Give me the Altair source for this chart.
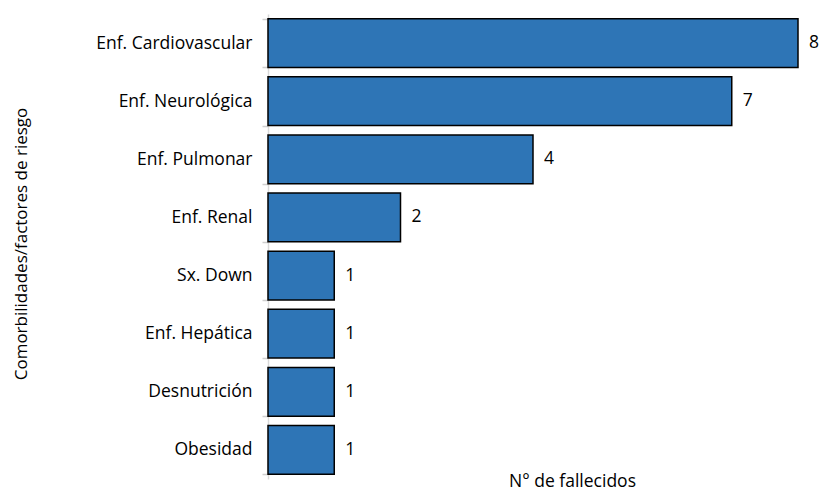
import altair as alt
import pandas as pd

categories = ["Enf. Cardiovascular", "Enf. Neurológica", "Enf. Pulmonar", "Enf. Renal",
              "Sx. Down", "Enf. Hepática", "Desnutrición", "Obesidad"]
values = [8, 7, 4, 2, 1, 1, 1, 1]

df = pd.DataFrame({"cat": categories, "n": values})

FONT = "Open Sans"
FS = 17.5
W, H = 530, 465

y_enc = alt.Y("cat:N", sort=categories,
              scale=alt.Scale(paddingInner=0.16, paddingOuter=0.08),
              axis=alt.Axis(title="Comorbilidades/factores de riesgo", titleFont=FONT,
                            titleFontSize=17, titleFontWeight="normal", titleColor="#000000",
                            titleAngle=270, titleX=-247, titleY=H / 2 - 3, titleAlign="center",
                            titleBaseline="middle",
                            labelFont=FONT, labelFontSize=FS, labelColor="#000000",
                            labelPadding=10, ticks=True, tickSize=6, tickColor="#CFCFCF",
                            tickWidth=1.5, tickBand="extent",
                            domainColor="#D9D9D9", domainWidth=1.5))

x_enc = alt.X("n:Q", scale=alt.Scale(domain=[0, 8], nice=False),
              axis=alt.Axis(title="N° de fallecidos", titleFont=FONT, titleFontSize=FS,
                            titleFontWeight="normal", titleColor="#000000",
                            titleX=304, titleY=11, titleBaseline="bottom", titleAlign="center",
                            labels=False, ticks=False, domain=False, grid=False))

base = alt.Chart(df)

bars = base.mark_bar(color="#2E75B6", stroke="#000000", strokeWidth=1.5).encode(
    x=x_enc, y=y_enc)

labels = base.mark_text(align="left", baseline="middle", dx=11, font=FONT,
                        fontSize=FS, color="#000000").encode(
    x="n:Q", y=alt.Y("cat:N", sort=categories), text="n:Q")

chart = alt.layer(bars, labels).properties(
    width=W, height=H,
    autosize=alt.AutoSizeParams(type="none"),
    padding={"left": 260, "top": 6, "right": 21, "bottom": 12},
).configure_view(stroke=None)

chart.save("out.html", embed_options={"renderer": "svg", "actions": False})
